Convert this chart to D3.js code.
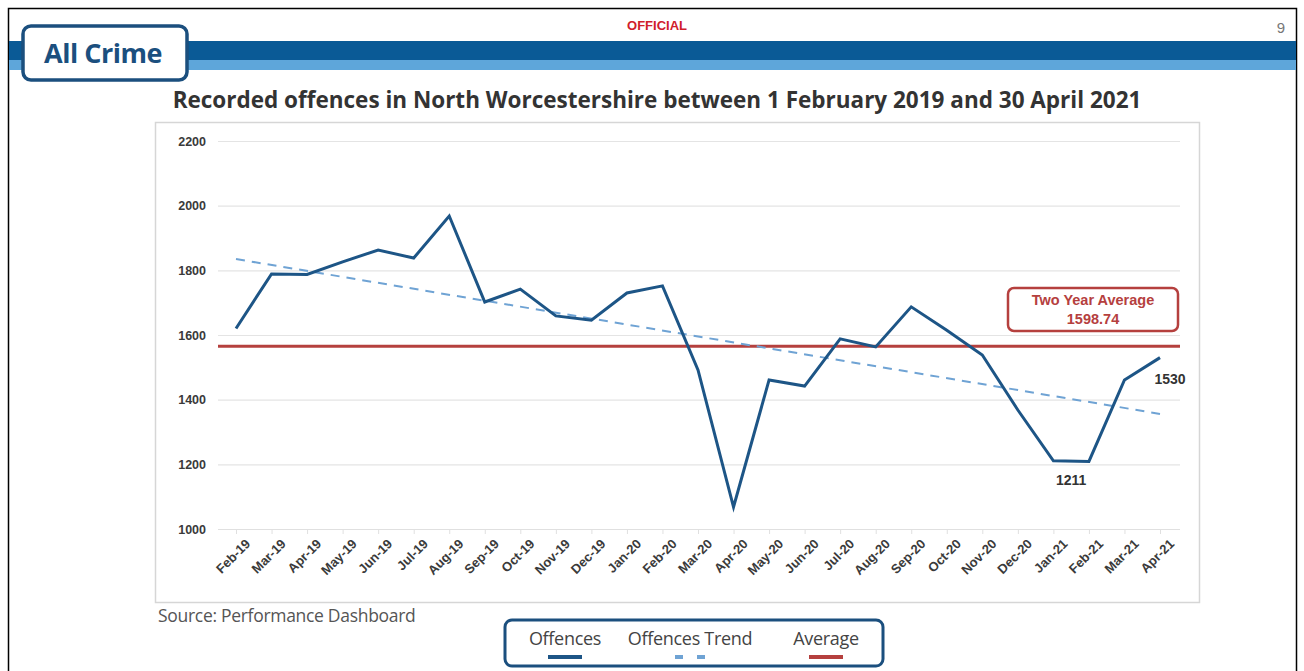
<!DOCTYPE html>
<html>
<head>
<meta charset="utf-8">
<script src="https://cdn.jsdelivr.net/npm/d3@7"></script>
<style>
  body { margin: 0; background: #fff; }
  svg { display: block; font-family: "Liberation Sans", Arial, sans-serif; }
</style>
</head>
<body>
<svg id="slide" width="1304" height="671"></svg>
<script>
// monthly recorded offences
const months = ['Feb-19','Mar-19','Apr-19','May-19','Jun-19','Jul-19','Aug-19','Sep-19','Oct-19','Nov-19','Dec-19','Jan-20','Feb-20','Mar-20','Apr-20','May-20','Jun-20','Jul-20','Aug-20','Sep-20','Oct-20','Nov-20','Dec-20','Jan-21','Feb-21','Mar-21','Apr-21'];
const offences = [1620, 1789, 1787, 1826, 1863, 1838, 1968, 1702, 1742, 1659, 1646, 1730, 1752, 1492, 1068, 1461, 1442, 1588, 1563, 1687, 1615, 1538, 1368, 1211, 1209, 1461, 1530];
const trendEnds = [1835, 1356];   // linear trend, first and last month
const averageLevel = 1565;        // where the red line is drawn
const averageLabel = '1598.74';
const yTicks = [1000, 1200, 1400, 1600, 1800, 2000, 2200];

const navy = '#1b4f7e';
const lineBlue = '#1d5586';
const trendBlue = '#6fa3d4';
const avgRed = '#b5403e';

const svg = d3.select('#slide');

// slide frame
svg.append('path')
  .attr('d', 'M8.5,671 V8.5 H1296.5 V671')
  .attr('fill', 'none').attr('stroke', '#000').attr('stroke-width', 1.5);

// header bands
svg.append('rect').attr('x', 9).attr('y', 41).attr('width', 1287).attr('height', 19).attr('fill', '#0a5a96');
svg.append('rect').attr('x', 9).attr('y', 60).attr('width', 1287).attr('height', 10).attr('fill', '#5ea6da');

svg.append('rect')
  .attr('x', 23).attr('y', 26).attr('width', 164).attr('height', 54).attr('rx', 8)
  .attr('fill', '#fff').attr('stroke', navy).attr('stroke-width', 3.5);
svg.append('text')
  .attr('x', 103).attr('y', 63).attr('text-anchor', 'middle')
  .attr('font-family', '"Open Sans", sans-serif').attr('font-weight', 'bold')
  .attr('font-size', 27).attr('letter-spacing', -0.5).attr('fill', navy).text('All Crime');

svg.append('text')
  .attr('x', 657).attr('y', 30).attr('text-anchor', 'middle')
  .attr('font-weight', 'bold').attr('font-size', 13).attr('fill', '#d0202a').text('OFFICIAL');
svg.append('text')
  .attr('x', 1281).attr('y', 33).attr('text-anchor', 'middle')
  .attr('font-size', 15).attr('fill', '#777').text('9');

svg.append('text')
  .attr('x', 657).attr('y', 108).attr('text-anchor', 'middle')
  .attr('font-family', '"Open Sans", sans-serif').attr('font-weight', 'bold')
  .attr('font-size', 22.5).attr('fill', '#333')
  .text('Recorded offences in North Worcestershire between 1 February 2019 and 30 April 2021');

// chart box
svg.append('rect')
  .attr('x', 155.5).attr('y', 122.5).attr('width', 1044).attr('height', 480)
  .attr('fill', '#fff').attr('stroke', '#d6d6d6').attr('stroke-width', 1.5);

const x = d3.scalePoint().domain(months).range([236, 1160]);
const y = d3.scaleLinear().domain([1000, 2200]).range([529, 141]);

// grid + y labels
const yAxis = svg.append('g')
  .attr('transform', 'translate(218,0)')
  .call(d3.axisLeft(y).tickValues(yTicks).tickFormat(d3.format('d')).tickSize(-962).tickPadding(12));
yAxis.select('.domain').remove();
yAxis.selectAll('.tick line').attr('stroke', '#e4e4e4').attr('stroke-width', 1.2);
yAxis.selectAll('.tick text').attr('font-size', 12.5).attr('font-weight', 'bold').attr('fill', '#3a3a3a');

// x axis
const xAxis = svg.append('g')
  .attr('transform', 'translate(0,529)')
  .call(d3.axisBottom(x).tickSize(5).tickPadding(4));
xAxis.select('.domain').attr('stroke', '#e0e0e0').attr('d', 'M218,0.5H1180');
xAxis.selectAll('.tick line').attr('stroke', '#e0e0e0');
xAxis.selectAll('.tick text')
  .attr('font-size', 13).attr('font-weight', 'bold').attr('fill', '#3a3a3a')
  .attr('text-anchor', 'end')
  .attr('transform', 'translate(5,6) rotate(-45)')
  .attr('dy', '0.35em');

// average line
svg.append('line')
  .attr('x1', 218).attr('x2', 1180)
  .attr('y1', y(averageLevel)).attr('y2', y(averageLevel))
  .attr('stroke', avgRed).attr('stroke-width', 3);

// trend line
svg.append('line')
  .attr('x1', x(months[0])).attr('y1', y(trendEnds[0]))
  .attr('x2', x(months[months.length - 1])).attr('y2', y(trendEnds[1]))
  .attr('stroke', trendBlue).attr('stroke-width', 2).attr('stroke-dasharray', '9,7');

// offences line
const line = d3.line().x((d, i) => x(months[i])).y(d => y(d));
svg.append('path')
  .datum(offences)
  .attr('fill', 'none').attr('stroke', lineBlue).attr('stroke-width', 3)
  .attr('stroke-linejoin', 'miter')
  .attr('d', line);

// data labels
const last = offences.length - 1;
svg.append('text')
  .attr('x', x(months[last]) + 10).attr('y', y(offences[last]) + 26)
  .attr('text-anchor', 'middle').attr('font-weight', 'bold')
  .attr('font-size', 14).attr('fill', '#333').text(offences[last]);
const jan21 = months.indexOf('Jan-21');
svg.append('text')
  .attr('x', (x('Jan-21') + x('Feb-21')) / 2).attr('y', y(offences[jan21]) + 24)
  .attr('text-anchor', 'middle').attr('font-weight', 'bold')
  .attr('font-size', 14).attr('fill', '#333').text(offences[jan21]);

// average callout
svg.append('rect')
  .attr('x', 1008).attr('y', 288).attr('width', 170).attr('height', 43).attr('rx', 6)
  .attr('fill', '#fff').attr('stroke', avgRed).attr('stroke-width', 2.5);
svg.append('text')
  .attr('x', 1093).attr('y', 305).attr('text-anchor', 'middle')
  .attr('font-weight', 'bold').attr('font-size', 14.5).attr('fill', avgRed).text('Two Year Average');
svg.append('text')
  .attr('x', 1093).attr('y', 324).attr('text-anchor', 'middle')
  .attr('font-weight', 'bold').attr('font-size', 14.5).attr('fill', avgRed).text(averageLabel);

// source
svg.append('text')
  .attr('x', 158).attr('y', 622)
  .attr('font-family', '"Open Sans", sans-serif')
  .attr('font-size', 17.5).attr('letter-spacing', -0.3).attr('fill', '#555').text('Source: Performance Dashboard');

// legend
svg.append('rect')
  .attr('x', 505).attr('y', 620).attr('width', 378).attr('height', 46).attr('rx', 7)
  .attr('fill', '#fff').attr('stroke', navy).attr('stroke-width', 3);
const legendItems = [
  { label: 'Offences', cx: 565, color: lineBlue, dash: null, w: 34 },
  { label: 'Offences Trend', cx: 690, color: trendBlue, dash: '8,14', w: 30 },
  { label: 'Average', cx: 826, color: avgRed, dash: null, w: 34 }
];
const lg = svg.selectAll('.legend').data(legendItems).enter().append('g');
lg.append('text')
  .attr('x', d => d.cx).attr('y', 645).attr('text-anchor', 'middle')
  .attr('font-family', '"Open Sans", sans-serif')
  .attr('font-size', 18).attr('letter-spacing', -0.3).attr('fill', '#444').text(d => d.label);
lg.append('line')
  .attr('x1', d => d.cx - d.w / 2).attr('x2', d => d.cx + d.w / 2)
  .attr('y1', 657).attr('y2', 657)
  .attr('stroke', d => d.color).attr('stroke-width', 4)
  .attr('stroke-dasharray', d => d.dash);
</script>
</body>
</html>
